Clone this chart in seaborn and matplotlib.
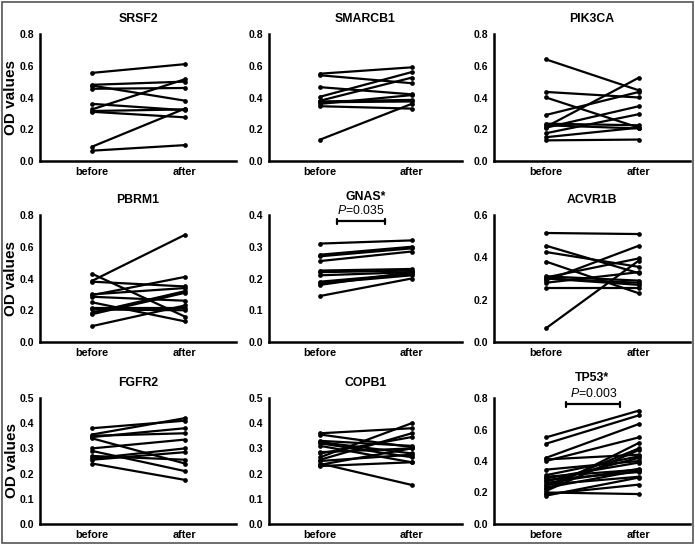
import pandas as pd
import matplotlib.pyplot as plt
import seaborn as sns
from matplotlib.patches import Rectangle

# paired OD values (before -> after)
srsf2_before = [0.555, 0.48, 0.475, 0.455, 0.36, 0.325, 0.315, 0.31, 0.09, 0.065]
srsf2_after = [0.61, 0.50, 0.38, 0.46, 0.32, 0.515, 0.325, 0.275, 0.33, 0.10]

smarcb1_before = [0.55, 0.54, 0.465, 0.405, 0.38, 0.375, 0.37, 0.36, 0.345, 0.135]
smarcb1_after = [0.59, 0.49, 0.42, 0.56, 0.525, 0.385, 0.375, 0.415, 0.33, 0.36]

pik3ca_before = [0.64, 0.435, 0.40, 0.29, 0.235, 0.225, 0.215, 0.21, 0.175, 0.15, 0.13]
pik3ca_after = [0.445, 0.40, 0.21, 0.435, 0.225, 0.205, 0.525, 0.345, 0.295, 0.21, 0.135]

pbrm1_before = [0.43, 0.385, 0.38, 0.30, 0.295, 0.285, 0.25, 0.215, 0.205, 0.185, 0.175, 0.10]
pbrm1_after = [0.16, 0.675, 0.35, 0.34, 0.41, 0.26, 0.13, 0.215, 0.20, 0.32, 0.31, 0.23]

gnas_before = [0.31, 0.275, 0.27, 0.255, 0.225, 0.22, 0.21, 0.19, 0.185, 0.18, 0.145]
gnas_after = [0.32, 0.30, 0.295, 0.285, 0.23, 0.225, 0.22, 0.215, 0.21, 0.22, 0.20]

acvr1b_before = [0.515, 0.455, 0.425, 0.38, 0.31, 0.305, 0.30, 0.30, 0.29, 0.28, 0.255, 0.065]
acvr1b_after = [0.51, 0.325, 0.355, 0.23, 0.29, 0.395, 0.28, 0.27, 0.455, 0.33, 0.255, 0.385]

fgfr2_before = [0.38, 0.355, 0.35, 0.345, 0.34, 0.30, 0.29, 0.27, 0.26, 0.255, 0.24]
fgfr2_after = [0.41, 0.42, 0.36, 0.38, 0.24, 0.335, 0.21, 0.255, 0.30, 0.285, 0.175]

copb1_before = [0.36, 0.355, 0.33, 0.325, 0.32, 0.31, 0.285, 0.28, 0.265, 0.255, 0.25, 0.24, 0.235, 0.23]
copb1_after = [0.38, 0.305, 0.31, 0.28, 0.265, 0.245, 0.30, 0.345, 0.40, 0.36, 0.275, 0.155, 0.30, 0.245]

tp53_before = [0.55, 0.51, 0.42, 0.41, 0.40, 0.345, 0.31, 0.30, 0.29, 0.28,
               0.27, 0.26, 0.25, 0.24, 0.23, 0.22, 0.21, 0.20, 0.19, 0.18]
tp53_after = [0.72, 0.69, 0.635, 0.44, 0.55, 0.40, 0.43, 0.345, 0.39, 0.33,
              0.42, 0.35, 0.30, 0.48, 0.34, 0.515, 0.47, 0.19, 0.25, 0.295]

genes = ["SRSF2", "SMARCB1", "PIK3CA", "PBRM1", "GNAS*", "ACVR1B", "FGFR2", "COPB1", "TP53*"]
befores = [srsf2_before, smarcb1_before, pik3ca_before, pbrm1_before, gnas_before,
           acvr1b_before, fgfr2_before, copb1_before, tp53_before]
afters = [srsf2_after, smarcb1_after, pik3ca_after, pbrm1_after, gnas_after,
          acvr1b_after, fgfr2_after, copb1_after, tp53_after]
ymax = [0.8, 0.8, 0.8, 0.8, 0.4, 0.6, 0.5, 0.5, 0.8]
ystep = [0.2, 0.2, 0.2, 0.2, 0.1, 0.2, 0.1, 0.1, 0.2]
pvalues = {"GNAS*": "0.035", "TP53*": "0.003"}

sns.set_style("white")
plt.rcParams['font.family'] = ['Liberation Sans', 'DejaVu Sans']
plt.rcParams['mathtext.fontset'] = 'custom'
plt.rcParams['mathtext.it'] = 'Liberation Sans:italic'
plt.rcParams['mathtext.rm'] = 'Liberation Sans'
for key in ['text.color', 'axes.labelcolor', 'xtick.color', 'ytick.color', 'axes.edgecolor']:
    plt.rcParams[key] = 'black'

W, H = 695, 545
fig = plt.figure(figsize=(W / 100, H / 100), dpi=100)
fig.patches.append(Rectangle((0.003, 0.003), 0.994, 0.994, transform=fig.transFigure,
                             fill=False, edgecolor='#555555', linewidth=1.2))

col_x = [(40, 236), (269, 462), (494, 690)]
row_y = [(34, 161), (215, 342), (398, 524)]

for i, gene in enumerate(genes):
    r, c = divmod(i, 3)
    x0, x1 = col_x[c]
    yt, yb = row_y[r]
    ax = fig.add_axes([x0 / W, 1 - yb / H, (x1 - x0) / W, (yb - yt) / H])

    n = len(befores[i])
    df = pd.DataFrame({
        'pair': list(range(n)) * 2,
        'time': ['before'] * n + ['after'] * n,
        'od': befores[i] + afters[i],
    })
    df['x'] = df['time'].map({'before': 0, 'after': 1})
    sns.lineplot(ax=ax, data=df, x='x', y='od', units='pair', estimator=None,
                 color='black', linewidth=1.6, marker='o', markersize=3.4,
                 markeredgewidth=0, legend=False)

    ax.set_xlim(-0.56, 1.55)
    ax.set_ylim(0, ymax[i])
    nt = int(round(ymax[i] / ystep[i]))
    ax.set_yticks([k * ystep[i] for k in range(nt + 1)])
    ax.set_yticklabels([f"{k * ystep[i]:.1f}" for k in range(nt + 1)], fontsize=7.5, fontweight='bold')
    ax.set_xticks([0, 1])
    ax.set_xticklabels(['before', 'after'], fontsize=7.8, fontweight='bold')
    ax.tick_params(axis='y', length=3, width=1.5, pad=1)
    ax.tick_params(axis='x', length=2.5, width=1.2, pad=2)
    sns.despine(ax=ax)
    for s in ['left', 'bottom']:
        ax.spines[s].set_linewidth(1.8)
    ax.set_xlabel('')
    if c == 0:
        ax.set_ylabel('OD values', fontsize=11, fontweight='bold', labelpad=1)
    else:
        ax.set_ylabel('')

    if gene in pvalues:
        ym = ymax[i]
        ax.set_title(gene, fontsize=8.8, fontweight='bold', pad=11 if gene == "GNAS*" else 12.5)
        bx0, bx1 = (0.18, 0.71) if gene == "GNAS*" else (0.22, 0.80)
        by = ym * 0.95
        cap = ym * 0.02
        ax.plot([bx0, bx1], [by, by], color='black', lw=1.6, clip_on=False)
        ax.plot([bx0, bx0], [by - cap, by + cap], color='black', lw=1.6, clip_on=False)
        ax.plot([bx1, bx1], [by - cap, by + cap], color='black', lw=1.6, clip_on=False)
        ax.text((bx0 + bx1) / 2, by + ym * 0.035, r"$\mathit{P}$" + "=" + pvalues[gene],
                ha='center', va='bottom', fontsize=8.8, fontweight='normal')
    else:
        ax.set_title(gene, fontsize=8.8, fontweight='bold', pad=9)

fig.savefig("out.png", dpi=100)
